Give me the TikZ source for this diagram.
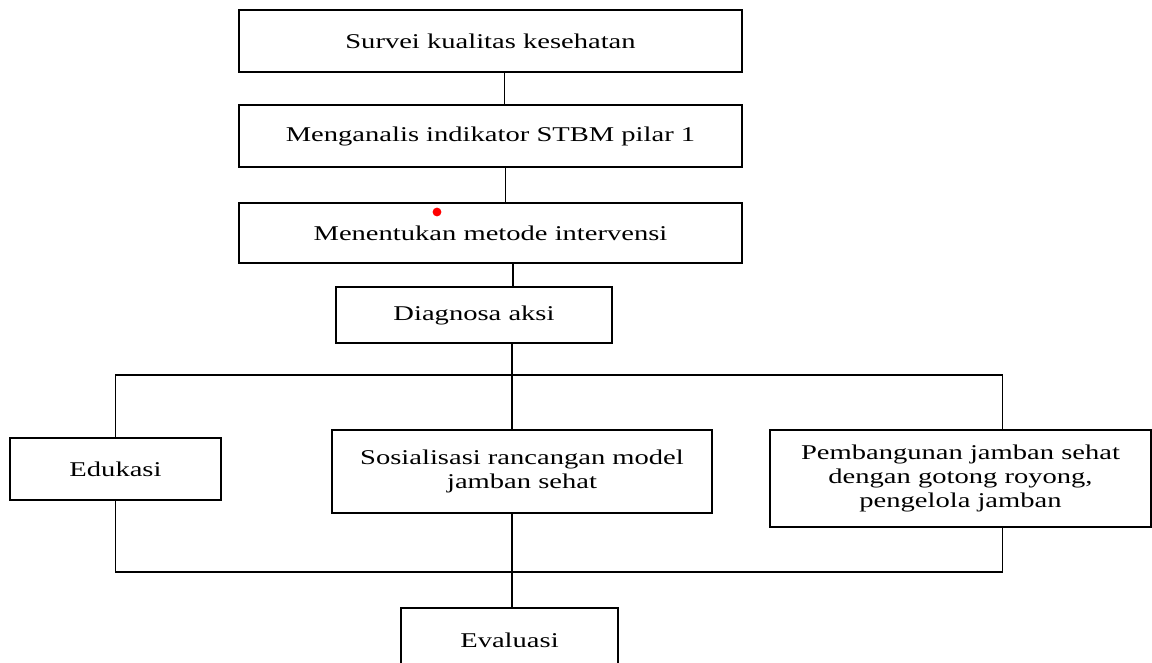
\documentclass[tikz,border=0pt]{standalone}
\usepackage{fontspec}
\setmainfont{Liberation Serif}[FakeStretch=1.36]
\usepackage{tikz}
\usetikzlibrary{positioning}

\begin{document}
\begin{tikzpicture}[x=0.5pt, y=-0.5pt, line width=0.7pt,
    box/.style={rectangle, draw=black, inner sep=0pt, align=center,
        font=\fontsize{10.5}{12}\selectfont}]
    \useasboundingbox (0,0) rectangle (1152,663);

    \node[box, minimum width=251.5pt, minimum height=31pt] (survei) at (490.5,41) {Survei kualitas kesehatan};
    \node[box, minimum width=251.5pt, minimum height=31pt] (analisis) at (490.5,136) {Menganalis indikator STBM pilar 1};
    \node[box, minimum width=251.5pt, minimum height=30pt] (metode) at (490.5,233) {Menentukan metode intervensi};
    \node[box, minimum width=138pt, minimum height=28pt] (diagnosa) at (474,315) {Diagnosa aksi};

    \node[box, minimum width=105.5pt, minimum height=31pt] (edukasi) at (115.5,469) {Edukasi};
    \node[box, minimum width=190pt, minimum height=41.5pt] (sosialisasi) at (522,471.5) {Sosialisasi rancangan model\\jamban sehat};
    \node[box, minimum width=190.5pt, minimum height=48.5pt] (pembangunan) at (960.5,478.5) {Pembangunan jamban sehat\\dengan gotong royong,\\pengelola jamban};

    \node[box, minimum width=108.5pt, minimum height=32pt] (evaluasi) at (509.5,640) {Evaluasi};

    \fill[red] (437,212) circle (2.2pt);

    \coordinate (atas) at (0,375);
    \coordinate (bawah) at (0,572);

    \draw ([xshift=7pt]survei.south) -- ([xshift=7pt]analisis.north);
    \draw ([xshift=7.5pt]analisis.south) -- ([xshift=7.5pt]metode.north);
    \draw ([xshift=11.25pt]metode.south) -- ([xshift=11.25pt]metode.south |- diagnosa.north);
    \draw ([xshift=19pt]diagnosa.south) -- ([xshift=19pt]diagnosa.south |- sosialisasi.north);

    \draw (edukasi.north) -- (edukasi.north |- atas) -- ([xshift=21pt]pembangunan.north |- atas) -- ([xshift=21pt]pembangunan.north);
    \draw (edukasi.south) -- (edukasi.south |- bawah) -- ([xshift=21pt]pembangunan.south |- bawah) -- ([xshift=21pt]pembangunan.south);
    \draw ([xshift=-5pt]sosialisasi.south) -- ([xshift=-5pt]sosialisasi.south |- evaluasi.north);
\end{tikzpicture}
\end{document}
